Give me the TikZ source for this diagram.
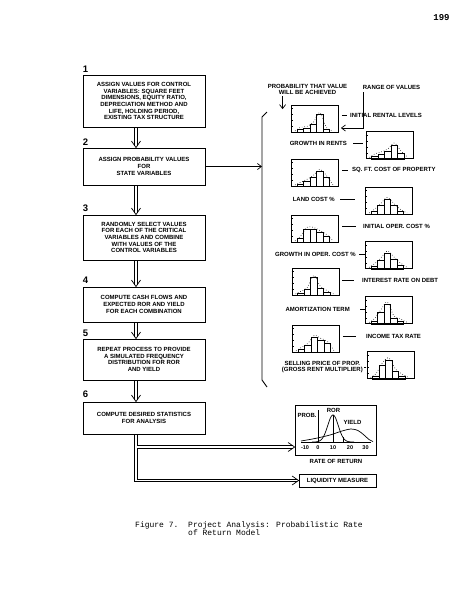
\documentclass[tikz,border=0pt]{standalone}
\usepackage{fontspec}
\setmainfont{Liberation Sans}
\newfontfamily\monofont{Liberation Mono}
\usetikzlibrary{arrows.meta}
\newcommand\histo[8]{%
  \node[histbox] (#1) at (#2,#3) {};
  \begin{scope}[shift={(#1.south west)}]
    \foreach \hh [count=\i from 0] in {#4,#5,#6,#7,#8}
      \draw[histbar] ({6+6.5*\i},0) rectangle ++(6.5,-\hh);
    \foreach \t in {6,12,18,24} \draw[histbar] (0,-\t) -- (2,-\t);
    \draw[line width=0.6pt, dotted] plot[smooth] coordinates {(4,-1.5) (9.25,-#4-2) (15.75,-#5-2) (22.25,-#6-2) (28.75,-#7-2) (35.25,-#8-2) (42,-1.5)};
  \end{scope}}
\newcommand\dblv[2]{%
  \draw[dblout] ([xshift=-8pt]#1.south) -- ([xshift=-8pt,yshift=1.5pt]#2.north);
  \draw[dblin] ([xshift=-8pt]#1.south) -- ([xshift=-8pt,yshift=1.5pt]#2.north);
  \draw[vtip] ([xshift=-12.5pt,yshift=6.5pt]#2.north) -- ([xshift=-8pt]#2.north) -- ([xshift=-3.5pt,yshift=6.5pt]#2.north);}
\begin{document}
\begin{tikzpicture}[x=1pt,y=-1pt,
  txt/.style={font=\bfseries\fontsize{6}{6.7}\selectfont, inner sep=1pt, align=center},
  stepbox/.style={txt, draw, line width=0.9pt, minimum width=122pt, inner sep=0pt},
  numlbl/.style={font=\bfseries\fontsize{9.5}{10}\selectfont, inner sep=0pt, anchor=base west},
  histbox/.style={draw, line width=0.8pt, minimum width=47pt, minimum height=27pt, inner sep=0pt},
  histbar/.style={line width=0.5pt},
  dblout/.style={line width=3.4pt},
  dblin/.style={white, line width=1.8pt, shorten <=0.5pt},
  vtip/.style={line width=0.7pt},
  arr/.style={line width=0.7pt, -{Straight Barb[length=4pt,width=6pt]}},
  leadline/.style={line width=0.7pt},
  ticklbl/.style={font=\bfseries\fontsize{5.5}{6}\selectfont, inner sep=0pt},
]
\fill[white] (0,0) rectangle (463,600);
\useasboundingbox (0,0) rectangle (463,600);

% page number
\node[font=\monofont\bfseries\fontsize{9}{9}\selectfont, inner sep=0pt] (pg) at (441.5,18) {199};

% left column of steps
\node[stepbox, minimum height=52pt] (b1) at (144,101) {ASSIGN VALUES FOR CONTROL\\VARIABLES: SQUARE FEET\\DIMENSIONS, EQUITY RATIO,\\DEPRECIATION METHOD AND\\LIFE, HOLDING PERIOD,\\EXISTING TAX STRUCTURE};
\node[stepbox, minimum height=37pt] (b2) at (144,166.5) {ASSIGN PROBABILITY VALUES\\FOR\\STATE VARIABLES};
\node[stepbox, minimum height=45pt] (b3) at (144,237.5) {RANDOMLY SELECT VALUES\\FOR EACH OF THE CRITICAL\\VARIABLES AND COMBINE\\WITH VALUES OF THE\\CONTROL VARIABLES};
\node[stepbox, minimum height=35pt] (b4) at (144,304.5) {COMPUTE CASH FLOWS AND\\EXPECTED ROR AND YIELD\\FOR EACH COMBINATION};
\node[stepbox, minimum height=41pt] (b5) at (144,359.5) {REPEAT PROCESS TO PROVIDE\\A SIMULATED FREQUENCY\\DISTRIBUTION FOR ROR\\AND YIELD};
\node[stepbox, minimum height=32pt] (b6) at (144,418) {COMPUTE DESIRED STATISTICS\\FOR ANALYSIS};

\node[numlbl] (n1) at ([yshift=2.5pt]b1.north west) {1};
\node[numlbl] (n2) at ([yshift=2pt]b2.north west) {2};
\node[numlbl] (n3) at ([yshift=3pt]b3.north west) {3};
\node[numlbl] (n4) at ([yshift=3.5pt]b4.north west) {4};
\node[numlbl] (n5) at ([yshift=2pt]b5.north west) {5};
\node[numlbl] (n6) at ([yshift=4pt]b6.north west) {6};

\dblv{b1}{b2}
\dblv{b2}{b3}
\dblv{b3}{b4}
\dblv{b4}{b5}
\dblv{b5}{b6}

% outputs
\node[draw, line width=0.8pt, minimum width=81pt, minimum height=50pt, inner sep=0pt] (chart) at (335.5,430) {};
\node[draw, line width=0.8pt, minimum width=77pt, minimum height=13pt, inner sep=0pt, txt] (liq) at (337.5,480.5) {LIQUIDITY MEASURE};

\draw[dblout] ([xshift=-8pt]b6.south) |- ([xshift=-2pt]liq.west);
\draw[dblout] ([xshift=-8pt]b6.south) |- ([xshift=-2pt,yshift=-17pt]chart.west);
\draw[dblin] ([xshift=-8pt]b6.south) |- ([xshift=-2pt]liq.west);
\draw[dblin] ([xshift=-8pt]b6.south) |- ([xshift=-2pt,yshift=-17pt]chart.west);
\draw[vtip] ([xshift=-6.5pt,yshift=4.5pt]liq.west) -- (liq.west) -- ([xshift=-6.5pt,yshift=-4.5pt]liq.west);
\draw[vtip] ([xshift=-6.5pt,yshift=-12.5pt]chart.west) -- ([yshift=-17pt]chart.west) -- ([xshift=-6.5pt,yshift=-21.5pt]chart.west);

% chart contents
\node[txt] (prob) at (307,415) {PROB.};
\node[txt] (ror) at (333.5,410.5) {ROR};
\node[txt] (yld) at (352.5,422.5) {YIELD};
\draw[line width=0.7pt] (318,410) -- (318,443);
\draw[line width=0.7pt] (301,442) -- (371,442);
\draw[line width=0.7pt] plot[domain=312:354, samples=60, smooth] (\x, {442-27*exp(-((\x-333)/7.5)*((\x-333)/7.5))});
\draw[line width=0.6pt] (333,442) -- (333,415);
\draw[line width=0.6pt] (343,442) -- (343,437.4);
\draw[line width=0.7pt] plot[smooth] coordinates {(301,441) (315,438.5) (330,435) (342,431) (351,429) (358,430.5) (364,435) (369,439.5) (373,441.5)};
\node[ticklbl] (t1) at (305,447.5) {-10};
\node[ticklbl] (t2) at (318,447.5) {0};
\node[ticklbl] (t3) at (333,447.5) {10};
\node[ticklbl] (t4) at (350,447.5) {20};
\node[ticklbl] (t5) at (365.5,447.5) {30};
\node[txt] (rr) at (336,461) {RATE OF RETURN};

% bracket and input arrow
\coordinate (brt) at (262,117);
\coordinate (brb) at (262,380);
\draw[line width=0.9pt] (267,112) -- (brt) -- (brb) -- (267,387);
\draw[arr] (b2.east) -- (b2.east -| brt);

% histograms
\histo{h1}{315}{118.5}{3}{4}{8}{18}{3}
\histo{h2}{389.5}{145}{3}{5}{8}{14}{6}
\histo{h3}{315}{172.5}{2}{5}{9}{15}{9}
\histo{h4}{389}{200.5}{3}{9}{15}{9}{3}
\histo{h5}{315}{228.5}{4}{13}{13}{10}{6}
\histo{h6}{389}{255}{3}{9}{16}{10}{4}
\histo{h7}{315.5}{281.5}{2}{6}{18}{7}{3}
\histo{h8}{389}{310}{3}{12}{20}{6}{3}
\histo{h9}{316}{338.5}{3}{7}{15}{12}{9}
\histo{h10}{390.5}{365}{3}{14}{19}{8}{3}

% top annotations
\node[txt] (pv) at (307.5,89.5) {PROBABILITY THAT VALUE\\WILL BE ACHIEVED};
\node[txt] (rov) at (391.5,87) {RANGE OF VALUES};
\draw[arr] ([xshift=16pt]pv.south west) -- ([xshift=16pt,yshift=-13pt]pv.south west);
\draw[arr, shorten <=2pt, shorten >=2pt] ([xshift=1.5pt]rov.south west) |- ([yshift=-9.5pt]h1.east);

% variable labels
\node[txt, anchor=west] (l1) at (349,115) {INITIAL RENTAL LEVELS};
\node[txt, anchor=east] (l2) at (348,143) {GROWTH IN RENTS};
\node[txt, anchor=west] (l3) at (351,170) {SQ. FT. COST OF PROPERTY};
\node[txt, anchor=east] (l4) at (336,199) {LAND COST \%};
\node[txt, anchor=west] (l5) at (362,226) {INITIAL OPER. COST \%};
\node[txt, anchor=east] (l6) at (357,254) {GROWTH IN OPER. COST \%};
\node[txt, anchor=west] (l7) at (361,280) {INTEREST RATE ON DEBT};
\node[txt, anchor=east] (l8) at (351,309) {AMORTIZATION TERM};
\node[txt, anchor=west] (l9) at (365,336) {INCOME TAX RATE};
\node[txt, anchor=east] (l10) at (364,367) {SELLING PRICE OF PROP.\\(GROSS RENT MULTIPLIER)};

\draw[leadline, shorten <=3pt, shorten >=2pt] (h1.east |- l1.west) -- (l1.west);
\draw[leadline, shorten <=5pt, shorten >=3pt] (l2.east) -- (h2.west |- l2.east);
\draw[leadline, shorten <=3.5pt, shorten >=3pt] (h3.east |- l3.west) -- (l3.west);
\draw[leadline, shorten <=4pt, shorten >=10.5pt] (l4.east) -- (h4.west |- l4.east);
\draw[leadline, shorten <=3.5pt, shorten >=6pt] (h5.east |- l5.west) -- (l5.west);
\draw[leadline, shorten <=2pt, shorten >=0.5pt] (l6.east) -- (h6.west |- l6.east);
\draw[leadline, shorten <=3pt, shorten >=7pt] (h7.east |- l7.west) -- (l7.west);
\draw[leadline, shorten <=9pt, shorten >=0.5pt] (l8.east) -- (h8.west |- l8.east);
\draw[leadline, shorten <=3pt, shorten >=9pt] (h9.east |- l9.west) -- (l9.west);
\draw[leadline, shorten >=0.5pt] (l10.east) -- (h10.west |- l10.east);

% caption
\node[anchor=base west, font=\monofont\fontsize{8}{8.3}\selectfont, inner sep=0pt] (fig) at (135,527.5) {Figure 7.};
\node[anchor=base west, font=\monofont\fontsize{8}{8.3}\selectfont, inner sep=0pt] (cap1) at (188,527.5) {Project Analysis: Probabilistic Rate};
\node[anchor=base west, font=\monofont\fontsize{8}{8.3}\selectfont, inner sep=0pt] (cap2) at (188,535.8) {of Return Model};
\end{tikzpicture}
\end{document}
